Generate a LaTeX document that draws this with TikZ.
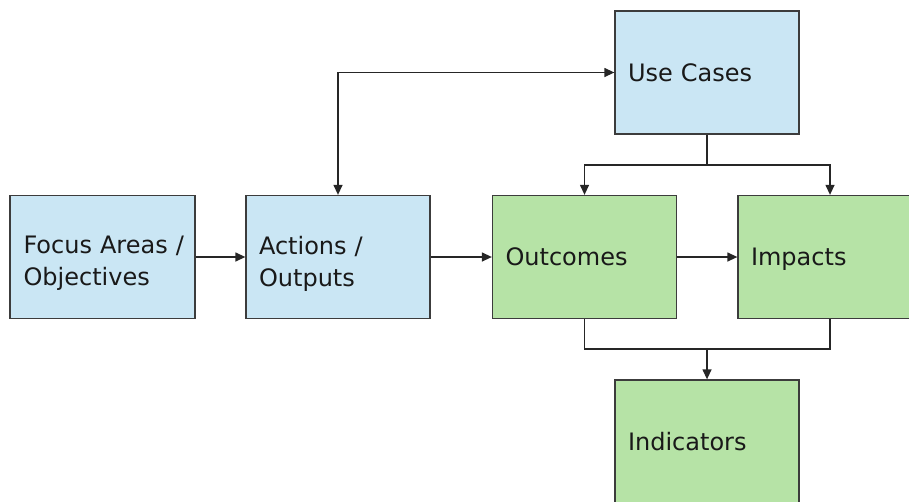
\documentclass[tikz,border=0pt]{standalone}
\usepackage{fontspec}
\setmainfont{DejaVu Sans}
\usetikzlibrary{arrows.meta}
\definecolor{boxblue}{RGB}{202,230,244}
\definecolor{boxgreen}{RGB}{182,227,166}
\definecolor{edgegray}{RGB}{60,60,60}
\definecolor{txt}{RGB}{25,25,25}
\tikzset{
  box/.style={draw=edgegray, line width=1.3pt, rectangle, minimum width=184pt, minimum height=123pt,
    text width=158pt, inner xsep=13pt, inner ysep=0pt, align=left, text=txt, text depth=0pt,
    font=\fontsize{24}{32}\selectfont},
  twoline/.style={text depth=24pt},
  bluebox/.style={box, fill=boxblue},
  greenbox/.style={box, fill=boxgreen},
  conn/.style={draw=black!85, line width=1.3pt, -{Triangle[length=10pt,width=9pt]}},
  plain/.style={draw=black!85, line width=1.3pt},
}
\begin{document}
\begin{tikzpicture}[x=1pt,y=-1pt]
\useasboundingbox (0,0) rectangle (909,501);
\clip (0,0) rectangle (909,501);
\node[bluebox, twoline, minimum width=185pt] (focus) at (102.5,257) {\mbox{Focus Areas /}\\Objectives};
\node[bluebox, twoline] (act) at (338,257) {Actions /\\Outputs};
\node[greenbox] (out) at (584.5,257) {Outcomes};
\node[greenbox] (imp) at (830,257) {Impacts};
\node[bluebox] (uc) at (707,72.5) {Use Cases};
\node[greenbox] (ind) at (707,441.5) {Indicators};
\coordinate (split) at (707,165);
\coordinate (merge) at (707,349);
\draw[conn] (focus.east) -- (act.west);
\draw[conn] (act.east) -- (out.west);
\draw[conn] (out.east) -- (imp.west);
\draw[conn, {Triangle[length=10pt,width=9pt]}-{Triangle[length=10pt,width=9pt]}] (act.north) |- (uc.west);
\draw[plain] (uc.south) -- (split);
\draw[conn] (split) -| (out.north);
\draw[conn] (split) -| (imp.north);
\draw[plain] (out.south) |- (merge);
\draw[plain] (imp.south) |- (merge);
\draw[conn] (merge) -- (ind.north);
\end{tikzpicture}
\end{document}
